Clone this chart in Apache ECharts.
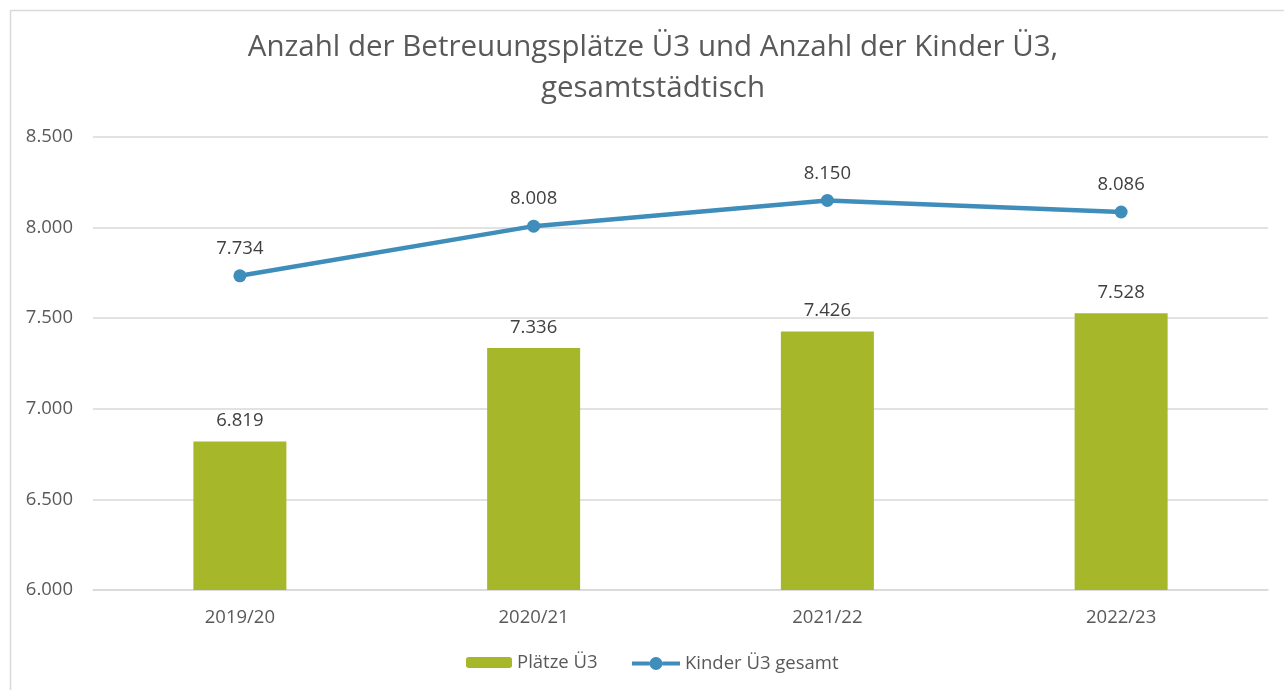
<!DOCTYPE html>
<html>
<head>
<meta charset="utf-8">
<script src="https://cdn.jsdelivr.net/npm/echarts@6/dist/echarts.min.js"></script>
<style>
html,body{margin:0;padding:0;background:#fff;}
#chart{width:1284px;height:690px;}
</style>
</head>
<body>
<div id="chart"></div>
<script>
const categories = ['2019/20', '2020/21', '2021/22', '2022/23'];
const plaetze = [6819, 7336, 7426, 7528];
const kinder = [7734, 8008, 8150, 8086];
const yTicks = { min: 6000, max: 8500, interval: 500 };

function fmt(v) {
  return String(v).replace(/\B(?=(\d{3})+(?!\d))/g, '.');
}

const FONT = '"Open Sans", "Noto Sans", sans-serif';
const LINE_COLOR = '#3f8dbb';
const LEGEND_TEXT = { fontFamily: FONT, fontSize: 18.5, color: '#595959' };
const lineIcon = 'path://M0,4.5H17.6V8.5H0Z M30.4,4.5H48V8.5H30.4Z M17.5,6.5A6.5,6.5,0,1,1,30.5,6.5A6.5,6.5,0,1,1,17.5,6.5Z';
const chart = echarts.init(document.getElementById('chart'), null, { renderer: 'canvas' });
chart.setOption({
  backgroundColor: '#fff',
  animation: false,
  textStyle: { fontFamily: FONT },
  graphic: [{
    type: 'rect',
    shape: { x: 10.5, y: 10.5, width: 1290, height: 700 },
    style: { fill: 'none', stroke: '#d9d9d9', lineWidth: 1.5 },
    silent: true
  }],
  title: {
    text: 'Anzahl der Betreuungsplätze Ü3 und Anzahl der Kinder Ü3,\ngesamtstädtisch',
    left: 648,
    textAlign: 'center',
    top: 22,
    textStyle: { fontFamily: FONT, fontSize: 29.5, fontWeight: 'normal', color: '#595959', lineHeight: 41 }
  },
  legend: [
    {
      bottom: 18,
      left: 466,
      padding: 0,
      itemWidth: 46,
      itemHeight: 11,
      textStyle: LEGEND_TEXT,
      data: ['Plätze Ü3']
    },
    {
      bottom: 17,
      left: 632,
      padding: 0,
      itemWidth: 48,
      itemHeight: 13,
      itemGap: 4,
      textStyle: LEGEND_TEXT,
      data: [{ name: 'Kinder Ü3 gesamt', icon: lineIcon, itemStyle: { color: LINE_COLOR } }]
    }
  ],
  grid: { left: 93, right: 16, top: 137, bottom: 100 },
  xAxis: {
    type: 'category',
    data: categories,
    axisLine: { lineStyle: { color: '#d9d9d9', width: 1.5 } },
    axisTick: { show: false },
    axisLabel: { fontFamily: FONT, fontSize: 18.5, color: '#595959', margin: 18 }
  },
  yAxis: {
    type: 'value',
    min: yTicks.min, max: yTicks.max, interval: yTicks.interval,
    axisLine: { show: false },
    axisTick: { show: false },
    splitLine: { lineStyle: { color: '#d9d9d9', width: 1.5 } },
    axisLabel: { fontFamily: FONT, fontSize: 18.5, color: '#595959', margin: 20, formatter: fmt }
  },
  series: [
    {
      name: 'Plätze Ü3',
      type: 'bar',
      data: plaetze,
      barWidth: 93,
      itemStyle: { color: '#a6b82a' },
      label: { show: true, position: 'top', distance: 11, fontFamily: FONT, fontSize: 18.5, color: '#404040', formatter: p => fmt(p.value) }
    },
    {
      name: 'Kinder Ü3 gesamt',
      type: 'line',
      data: kinder,
      symbol: 'circle',
      symbolSize: 13,
      lineStyle: { color: LINE_COLOR, width: 4.5 },
      itemStyle: { color: LINE_COLOR },
      label: { show: true, position: 'top', distance: 11, fontFamily: FONT, fontSize: 18.5, color: '#404040', formatter: p => fmt(p.value) }
    }
  ]
});
</script>
</body>
</html>
